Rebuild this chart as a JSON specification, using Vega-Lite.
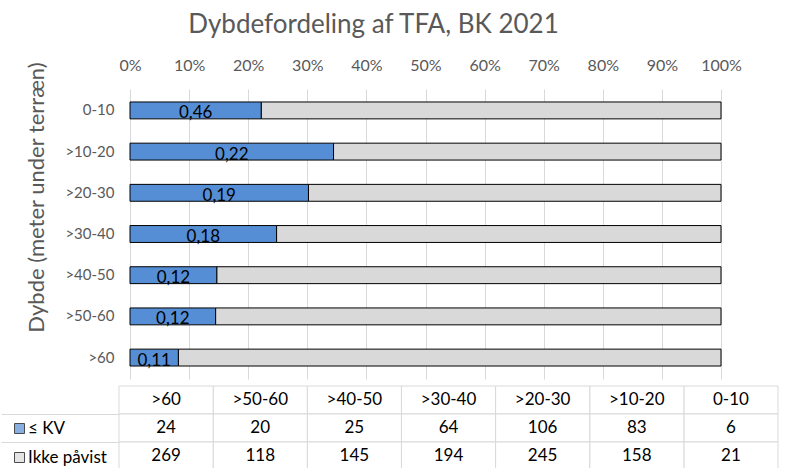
{
  "$schema": "https://vega.github.io/schema/vega-lite/v6.json",
  "padding": {"left": 0, "top": 12, "right": 0, "bottom": 0},
  "config": {"font": "Lato", "view": {"stroke": null}, "concat": {"spacing": 6}},
  "title": {"text": "Dybdefordeling af TFA, BK 2021", "fontSize": 26, "fontWeight": "normal", "color": "#595959", "anchor": "middle", "dx": -16, "offset": 19},
  "resolve": {"scale": {"color": "independent"}, "legend": {"color": "independent"}},
  "datasets": {
    "depths": [
      {"dybde": "0-10", "≤ KV": 6, "Ikke påvist": 21, "etiket": "0,46"},
      {"dybde": ">10-20", "≤ KV": 83, "Ikke påvist": 158, "etiket": "0,22"},
      {"dybde": ">20-30", "≤ KV": 106, "Ikke påvist": 245, "etiket": "0,19"},
      {"dybde": ">30-40", "≤ KV": 64, "Ikke påvist": 194, "etiket": "0,18"},
      {"dybde": ">40-50", "≤ KV": 25, "Ikke påvist": 145, "etiket": "0,12"},
      {"dybde": ">50-60", "≤ KV": 20, "Ikke påvist": 118, "etiket": "0,12"},
      {"dybde": ">60", "≤ KV": 24, "Ikke påvist": 269, "etiket": "0,11"}
    ]
  },
  "vconcat": [
    {
      "width": 602,
      "height": 290,
      "data": {"name": "depths"},
      "encoding": {
        "y": {
          "field": "dybde", "type": "nominal",
          "sort": ["0-10", ">10-20", ">20-30", ">30-40", ">40-50", ">50-60", ">60"],
          "scale": {"paddingInner": 0.59, "paddingOuter": 0.315},
          "axis": {"title": "Dybde (meter under terræn)", "titleFontSize": 22, "titleFontWeight": "normal", "titleColor": "#595959", "titleY": 108, "titlePadding": 16, "labelFontSize": 15, "labelColor": "#595959", "labelPadding": 5, "ticks": false, "domain": false}
        }
      },
      "layer": [
        {
          "transform": [{"fold": ["≤ KV", "Ikke påvist"], "as": ["serie", "antal"]}],
          "mark": {"type": "bar", "stroke": "black", "strokeWidth": 1},
          "encoding": {
            "x": {
              "field": "antal", "type": "quantitative", "stack": "normalize",
              "scale": {"domain": [0, 1], "range": [11, 602]},
              "axis": {"orient": "top", "format": ".0%", "values": [0, 0.1, 0.2, 0.3, 0.4, 0.5, 0.6, 0.7, 0.8, 0.9, 1], "labelFontSize": 16, "labelColor": "#595959", "labelPadding": 16, "labelFlush": false, "labelOverlap": false, "ticks": false, "domain": false, "grid": true, "gridColor": "#D9D9D9", "title": null}
            },
            "order": {"field": "serie", "sort": "descending"},
            "color": {"field": "serie", "type": "nominal", "scale": {"domain": ["≤ KV", "Ikke påvist"], "range": ["#558ED5", "#D9D9D9"]}, "legend": null}
          }
        },
        {
          "transform": [
            {"fold": ["≤ KV", "Ikke påvist"], "as": ["serie", "antal"]},
            {"stack": "antal", "groupby": ["dybde"], "sort": [{"field": "serie", "order": "descending"}], "offset": "normalize", "as": ["x0", "x1"]},
            {"filter": "datum.serie === '≤ KV'"},
            {"fold": ["x0", "x1"], "as": ["kant", "pos"]},
            {"aggregate": [{"op": "mean", "field": "pos", "as": "midt"}], "groupby": ["dybde", "etiket"]}
          ],
          "mark": {"type": "text", "fontSize": 17, "color": "black", "dy": 3},
          "encoding": {
            "x": {"field": "midt", "type": "quantitative", "title": null},
            "text": {"field": "etiket", "type": "nominal"}
          }
        }
      ]
    },
    {
      "width": 659,
      "height": 84,
      "data": {"name": "depths"},
      "encoding": {
        "x": {"field": "dybde", "type": "nominal", "sort": [">60", ">50-60", ">40-50", ">30-40", ">20-30", ">10-20", "0-10"], "scale": {"paddingInner": 0, "paddingOuter": 0}, "axis": null}
      },
      "layer": [
        {
          "mark": {"type": "rect", "fill": "white", "stroke": "#D9D9D9", "strokeWidth": 1},
          "encoding": {
            "y": {"datum": "hdr", "type": "nominal", "scale": {"domain": ["hdr", "≤ KV", "Ikke påvist"], "paddingInner": 0, "paddingOuter": 0},
              "axis": {"title": null, "labels": false, "domain": false, "ticks": true, "bandPosition": 1, "tickSize": 118, "tickColor": "#D9D9D9", "grid": false}}
          }
        },
        {
          "mark": {"type": "text", "fontSize": 17, "color": "black"},
          "encoding": {
            "y": {"datum": "hdr", "type": "nominal"},
            "text": {"field": "dybde", "type": "nominal"}
          }
        },
        {
          "transform": [{"fold": ["≤ KV", "Ikke påvist"], "as": ["serie", "antal"]}],
          "mark": {"type": "rect", "fill": "white", "stroke": "#D9D9D9", "strokeWidth": 1},
          "encoding": {"y": {"field": "serie", "type": "nominal"}}
        },
        {
          "transform": [{"fold": ["≤ KV", "Ikke påvist"], "as": ["serie", "antal"]}],
          "mark": {"type": "text", "fontSize": 17, "color": "black"},
          "encoding": {"y": {"field": "serie", "type": "nominal"}, "text": {"field": "antal", "type": "quantitative"}}
        },
        {
          "transform": [{"fold": ["≤ KV", "Ikke påvist"], "as": ["serie", "antal"]}],
          "mark": {"type": "square", "size": 0},
          "encoding": {
            "y": {"field": "serie", "type": "nominal"},
            "color": {"field": "serie", "type": "nominal", "scale": {"domain": ["≤ KV", "Ikke påvist"], "range": ["#558ED5", "#D9D9D9"]},
              "legend": {"orient": "none", "legendX": -108, "legendY": 34, "title": null, "symbolType": "square", "symbolSize": 100, "symbolStrokeColor": "black", "symbolStrokeWidth": 1, "labelFontSize": 17, "labelColor": "black", "labelOffset": 0, "rowPadding": 11, "padding": 0}
            }
          }
        }
      ]
    }
  ]
}
